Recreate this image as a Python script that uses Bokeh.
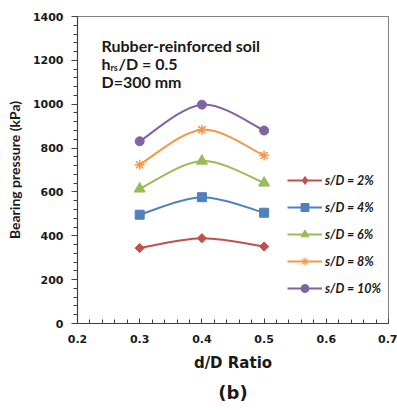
import numpy as np
from bokeh.plotting import figure
from bokeh.models import (Label, Legend, LegendItem, FixedTicker, Range1d,
                          NumeralTickFormatter, Title)
from bokeh.embed import file_html
from bokeh.resources import INLINE

# ---- data ----
ratio = [0.3, 0.4, 0.5]
series_labels = ["s/D = 2%", "s/D = 4%", "s/D = 6%", "s/D = 8%", "s/D = 10%"]
sd2 = [344, 389, 351]
sd4 = [496, 576, 505]
sd6 = [614, 741, 641]
sd8 = [724, 884, 766]
sd10 = [831, 998, 880]
x_ticks = [0.2, 0.3, 0.4, 0.5, 0.6, 0.7]
y_ticks = [0, 200, 400, 600, 800, 1000, 1200, 1400]

colors = ["#C0504D", "#4F81BD", "#9BBB59", "#F79646", "#8064A2"]
markers = ["square", "square", "triangle", "asterisk", "circle"]
leg_markers = ["diamond", "square", "triangle", "asterisk", "circle"]
angles = [np.pi / 4, 0, 0, 0, 0]
sizes = [6.5, 9, 11, 10, 9]
leg_sizes = [9, 7.5, 9, 8, 7.5]
all_series = [sd2, sd4, sd6, sd8, sd10]

p = figure(width=397, height=410, output_backend="svg", toolbar_location=None,
           x_range=Range1d(0.2, 0.7), y_range=Range1d(0, 1400),
           min_border_left=77, min_border_right=9, min_border_top=16,
           min_border_bottom=87)
p.grid.visible = False
p.outline_line_color = "#808080"
p.outline_line_width = 1
p.background_fill_color = "white"
p.border_fill_color = "white"


def smooth_segments(xs, ys):
    xs = np.asarray(xs, float)
    ys = np.asarray(ys, float)
    xp = np.concatenate([[xs[0]], xs, [xs[-1]]])
    yp = np.concatenate([[ys[0]], ys, [ys[-1]]])
    n = len(xs)
    x0, y0, x1, y1, cx0, cy0, cx1, cy1 = ([] for _ in range(8))
    for i in range(n - 1):
        x0.append(xs[i]); y0.append(ys[i])
        x1.append(xs[i + 1]); y1.append(ys[i + 1])
        cx0.append(xs[i] + (xp[i + 2] - xp[i]) / 6)
        cy0.append(ys[i] + (yp[i + 2] - yp[i]) / 6)
        cx1.append(xs[i + 1] - (xp[i + 3] - xp[i + 1]) / 6)
        cy1.append(ys[i + 1] - (yp[i + 3] - yp[i + 1]) / 6)
    return dict(x0=x0, y0=y0, x1=x1, y1=y1, cx0=cx0, cy0=cy0, cx1=cx1, cy1=cy1)


items = []
for lab, ys, c, m, lm, a, s, ls in zip(series_labels, all_series, colors, markers,
                                      leg_markers, angles, sizes, leg_sizes):
    seg = smooth_segments(ratio, ys)
    p.bezier(x0=seg["x0"], y0=seg["y0"], x1=seg["x1"], y1=seg["y1"],
             cx0=seg["cx0"], cy0=seg["cy0"], cx1=seg["cx1"], cy1=seg["cy1"],
             line_color=c, line_width=2)
    p.scatter(ratio, ys, marker=m, size=s, angle=a, fill_color=c,
              line_color=c, line_width=1.5 if m == "asterisk" else 1)
    # legend-only renderers (hidden in the plot area)
    lr = p.line(ratio, ys, line_color=c, line_width=2, visible=False)
    sr = p.scatter(ratio, ys, marker=lm, size=ls, fill_color=c,
                   line_color=c, line_width=1.2 if m == "asterisk" else 1,
                   visible=False)
    items.append(LegendItem(label=lab, renderers=[lr, sr]))

legend = Legend(items=items, location=(210, 25), padding=0, margin=0,
                spacing=7, glyph_width=35, glyph_height=20, label_height=20,
                label_standoff=3, label_text_font="Lato",
                label_text_font_style="bold italic", label_text_font_size="12.5px",
                label_text_color="#1a1a1a", inactive_fill_alpha=0,
                background_fill_alpha=0, border_line_alpha=0)
p.add_layout(legend)

# axes
xa = p.xaxis[0]
xa.ticker = FixedTicker(ticks=x_ticks,
                        minor_ticks=list(np.round(np.arange(0.2, 0.7001, 0.02), 2)))
xa.formatter = NumeralTickFormatter(format="0.0")
xa.major_tick_in = 5
xa.major_tick_out = 0
xa.minor_tick_in = 4
xa.minor_tick_out = 0
xa.axis_label = "d/D Ratio"
ya = p.yaxis[0]
ya.ticker = FixedTicker(ticks=y_ticks, minor_ticks=list(range(0, 1401, 40)))
ya.major_tick_out = 6
ya.major_tick_in = 0
ya.minor_tick_out = 4
ya.minor_tick_in = 0
ya.axis_label = "Bearing pressure (kPa)"
for ax in (xa, ya):
    ax.axis_line_color = "#404040"
    ax.axis_line_width = 1.2
    ax.major_tick_line_color = "#404040"
    ax.minor_tick_line_color = "#404040"
    ax.major_label_text_font = "DejaVu Sans"
    ax.major_label_text_font_style = "bold"
    ax.major_label_text_font_size = "11px"
    ax.major_label_text_color = "#1a1a1a"
    ax.axis_label_text_font_style = "bold"
    ax.axis_label_text_color = "#1a1a1a"
xa.major_label_standoff = 11
xa.axis_label_standoff = 8
xa.axis_label_text_font = "DejaVu Sans"
xa.axis_label_text_font_size = "15px"
ya.major_label_standoff = 8
ya.axis_label_standoff = 7
ya.axis_label_text_font = "Lato"
ya.axis_label_text_font_size = "14px"

# caption below the axis
p.add_layout(Title(text="(b)", align="center", text_font="DejaVu Sans",
                   text_font_style="bold", text_font_size="18px",
                   text_color="#1a1a1a", standoff=11), "below")

# annotation text
ann_font = "Lato"
ann_size = "16px"
ann_x = 0.2386
p.add_layout(Label(x=ann_x, y=1268, text="Rubber-reinforced soil", text_font=ann_font,
                   text_font_style="bold", text_font_size=ann_size,
                   text_baseline="middle", text_color="#1a1a1a"))
p.add_layout(Label(x=ann_x, y=1186, text="h", text_font=ann_font,
                   text_font_style="bold", text_font_size=ann_size,
                   text_baseline="middle", text_color="#1a1a1a"))
p.add_layout(Label(x=ann_x, y=1186, x_offset=9, y_offset=-4, text="rs", text_font=ann_font,
                   text_font_style="bold", text_font_size="9px",
                   text_baseline="middle", text_color="#1a1a1a"))
p.add_layout(Label(x=ann_x, y=1186, x_offset=17, text="/D = 0.5", text_font=ann_font,
                   text_font_style="bold", text_font_size=ann_size,
                   text_baseline="middle", text_color="#1a1a1a"))
p.add_layout(Label(x=ann_x, y=1104, text="D=300 mm", text_font=ann_font,
                   text_font_style="bold", text_font_size=ann_size,
                   text_baseline="middle", text_color="#1a1a1a"))

open("out.html", "w").write(file_html(p, INLINE))
